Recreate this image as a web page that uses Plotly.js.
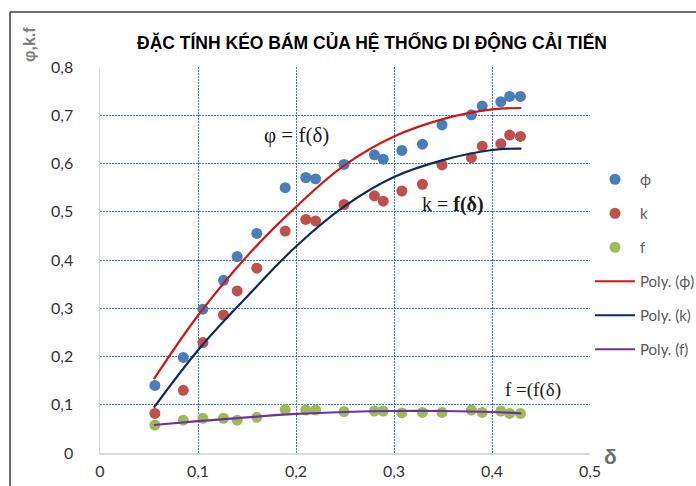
<!DOCTYPE html>
<html>
<head>
<meta charset="utf-8">
<script src="https://cdn.plot.ly/plotly-3.0.1.min.js"></script>
<style>
  html, body { margin: 0; padding: 0; background: #ffffff; }
  #chart { width: 696px; height: 486px; }
</style>
</head>
<body>
<div id="chart"></div>
<script>
// ---- data ----
const delta = [0.056, 0.085, 0.105, 0.126, 0.14, 0.16, 0.189, 0.21, 0.22, 0.249, 0.28, 0.289, 0.308, 0.329, 0.349, 0.379, 0.39, 0.409, 0.418, 0.429];
const phi = [0.14, 0.198, 0.298, 0.358, 0.407, 0.455, 0.55, 0.571, 0.568, 0.598, 0.618, 0.609, 0.627, 0.64, 0.68, 0.701, 0.719, 0.728, 0.739, 0.739];
const kVals = [0.082, 0.13, 0.229, 0.286, 0.336, 0.383, 0.46, 0.484, 0.481, 0.515, 0.533, 0.522, 0.543, 0.557, 0.597, 0.612, 0.636, 0.641, 0.659, 0.656];
const fVals = [0.058, 0.068, 0.072, 0.072, 0.068, 0.074, 0.09, 0.089, 0.089, 0.086, 0.087, 0.087, 0.083, 0.084, 0.084, 0.089, 0.084, 0.087, 0.082, 0.082];

// trend curves (Poly.)
const fitX = [0.055, 0.1, 0.15, 0.2, 0.25, 0.3, 0.35, 0.4, 0.43];
const phiFitY = [0.153, 0.285, 0.408, 0.51, 0.597, 0.656, 0.692, 0.712, 0.715];
const kFitY = [0.094, 0.213, 0.324, 0.428, 0.512, 0.572, 0.607, 0.628, 0.631];
const fFitY = [0.058, 0.066, 0.074, 0.081, 0.085, 0.087, 0.087, 0.085, 0.082];

const seriesNames = ['ϕ', 'k', 'f', 'Poly. (ϕ)', 'Poly. (k)', 'Poly. (f)'];
const xTickVals = [0, 0.1, 0.2, 0.3, 0.4, 0.5];
const xTickText = ['0', '0,1', '0,2', '0,3', '0,4', '0,5'];
const yTickVals = [0, 0.1, 0.2, 0.3, 0.4, 0.5, 0.6, 0.7, 0.8];
const yTickText = ['0', '0,1', '0,2', '0,3', '0,4', '0,5', '0,6', '0,7', '0,8'];

const titleText = 'ĐẶC TÍNH KÉO BÁM CỦA HỆ THỐNG DI ĐỘNG CẢI TIẾN';

// ---- layout geometry ----
const W = 696, H = 486;
const M = {l: 100, r: 106, t: 67, b: 33};
const pw = W - M.l - M.r, ph = H - M.t - M.b;
const px = x => (x - M.l) / pw;
const py = y => (H - M.b - y) / ph;

const markerTrace = (y, name, color) => ({
  x: delta, y: y, name: name, type: 'scatter', mode: 'markers',
  marker: {size: 11, color: color}, legendgroup: name
});
const lineTrace = (y, name, color) => ({
  x: fitX, y: y, name: name, type: 'scatter', mode: 'lines',
  line: {color: color, width: 2.2, shape: 'spline', smoothing: 1.1}, legendgroup: name
});

const data = [
  markerTrace(phi, seriesNames[0], '#4a7ebb'),
  markerTrace(kVals, seriesNames[1], '#c0504d'),
  markerTrace(fVals, seriesNames[2], '#9bbb59'),
  lineTrace(phiFitY, seriesNames[3], '#d01818'),
  lineTrace(kFitY, seriesNames[4], '#0f2a63'),
  lineTrace(fFitY, seriesNames[5], '#7030a0')
];

const gridColor = '#3b82c4';
const layout = {
  width: W, height: H,
  margin: M,
  paper_bgcolor: '#ffffff', plot_bgcolor: '#ffffff',
  showlegend: true,
  title: {
    text: '<b>' + titleText + '</b>',
    font: {family: 'Liberation Sans, Arial, sans-serif', size: 17.5, color: '#000000'},
    x: px(372), xref: 'paper', xanchor: 'center',
    y: 1 - 43 / H, yref: 'container', yanchor: 'middle'
  },
  xaxis: {
    range: [0, 0.5], tickvals: xTickVals, ticktext: xTickText,
    showgrid: true, gridcolor: gridColor, griddash: '2px,1px', gridwidth: 1,
    zeroline: false, showline: true, linecolor: '#d9d9d9', linewidth: 1.5,
    ticks: 'outside', ticklen: 3, tickcolor: 'rgba(0,0,0,0)',
    tickfont: {family: 'Lato, Open Sans, sans-serif', size: 16, color: '#333333'},
    fixedrange: true
  },
  yaxis: {
    range: [0, 0.8], tickvals: yTickVals, ticktext: yTickText,
    showgrid: true, gridcolor: gridColor, griddash: '2px,1px', gridwidth: 1,
    zeroline: false, showline: true, linecolor: '#d9d9d9', linewidth: 1.5,
    ticks: 'outside', ticklen: 22, tickcolor: 'rgba(0,0,0,0)',
    tickfont: {family: 'Lato, Open Sans, sans-serif', size: 16, color: '#333333'},
    fixedrange: true
  },
  legend: {
    xref: 'container', yref: 'container',
    x: 590 / W, xanchor: 'left',
    y: 1 - 163 / H, yanchor: 'top',
    traceorder: 'grouped', tracegroupgap: 11.5,
    itemwidth: 40,
    bgcolor: 'rgba(0,0,0,0)', borderwidth: 0,
    font: {family: 'Lato, Open Sans, sans-serif', size: 15, color: '#595959'}
  },
  annotations: [
    {text: 'φ = f(δ)', x: 0.2, y: 0.659, xref: 'x', yref: 'y', showarrow: false,
     xanchor: 'center', yanchor: 'middle',
     font: {family: 'Liberation Serif, Times New Roman, serif', size: 21, color: '#1a1a1a'}},
    {text: 'k = <b>f(δ)</b>', x: 0.360, y: 0.516, xref: 'x', yref: 'y', showarrow: false,
     xanchor: 'center', yanchor: 'middle',
     font: {family: 'Liberation Serif, Times New Roman, serif', size: 20, color: '#1a1a1a'}},
    {text: 'f =(f(δ)', x: 0.442, y: 0.131, xref: 'x', yref: 'y', showarrow: false,
     xanchor: 'center', yanchor: 'middle',
     font: {family: 'Liberation Serif, Times New Roman, serif', size: 19, color: '#1a1a1a'}},
    {text: '<b>φ,k.f</b>', x: px(29), y: py(45), xref: 'paper', yref: 'paper', showarrow: false,
     textangle: -90, xanchor: 'center', yanchor: 'middle',
     font: {family: 'Liberation Sans, Arial, sans-serif', size: 16, color: '#7f7f7f'}},
    {text: '<b>δ</b>', x: px(610), y: py(456), xref: 'paper', yref: 'paper', showarrow: false,
     xanchor: 'center', yanchor: 'middle',
     font: {family: 'Liberation Sans, Arial, sans-serif', size: 21, color: '#6f6f6f'}}
  ],
  shapes: [
    {type: 'line', xref: 'paper', yref: 'paper', x0: px(10), x1: px(10), y0: py(12), y1: py(H + 2),
     line: {color: '#3d3d45', width: 1.5}},
    {type: 'line', xref: 'paper', yref: 'paper', x0: px(10), x1: px(W + 2), y0: py(12), y1: py(12),
     line: {color: '#3d3d45', width: 1.5}}
  ]
};

Plotly.newPlot('chart', data, layout, {staticPlot: true, displayModeBar: false});
</script>
</body>
</html>
